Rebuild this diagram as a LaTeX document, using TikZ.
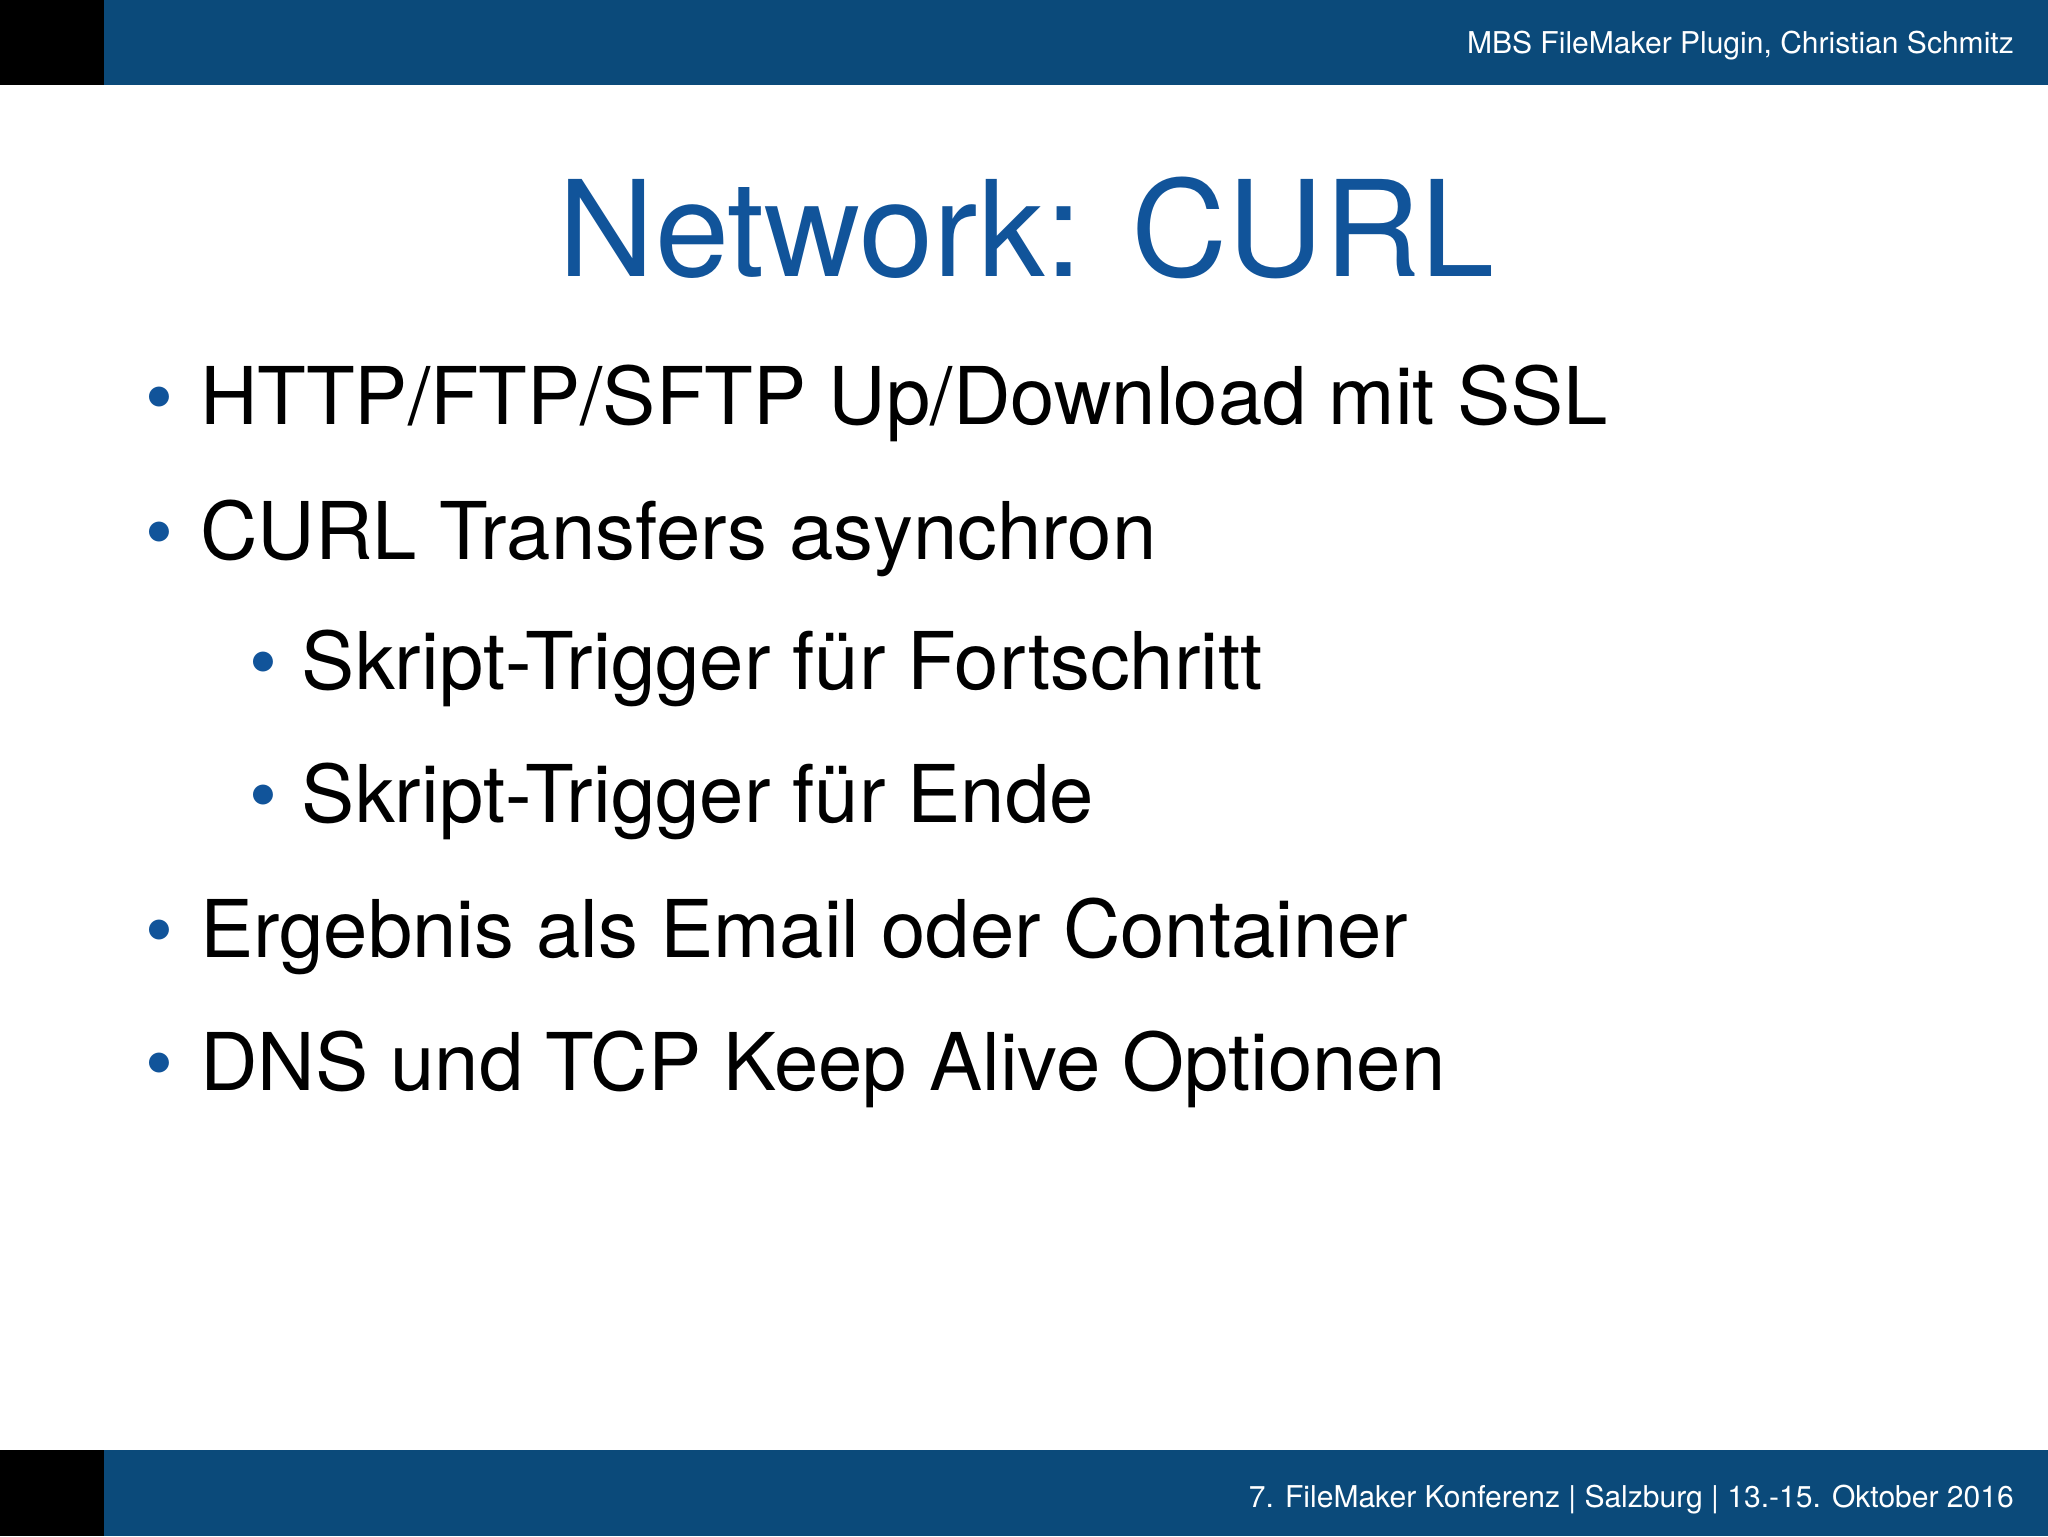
\documentclass[tikz,border=0pt]{standalone}
\usepackage{fontspec}
\setmainfont{TeX Gyre Heros}
\definecolor{barblue}{HTML}{0B4A7A}
\definecolor{titleblue}{HTML}{11549A}
\begin{document}
\begin{tikzpicture}[x=1pt,y=-1pt,
  item/.style={anchor=base west,inner sep=0,font=\fontsize{61}{70}\selectfont},
  dot/.style={anchor=base,inner sep=0,text=titleblue,font=\fontsize{61}{70}\selectfont},
  small/.style={anchor=base east,inner sep=0,text=white,font=\fontsize{23}{26}\selectfont}]
\useasboundingbox (0,0) rectangle (1568,1176);
\fill[white] (0,0) rectangle (1568,1176);
\fill[barblue] (0,0) rectangle (1568,65);
\fill[black] (0,0) rectangle (80,65);
\fill[barblue] (0,1110) rectangle (1568,1176);
\fill[black] (0,1110) rectangle (80,1176);
\node[small] (hdr) at (1542,41) {MBS FileMaker Plugin, Christian Schmitz};
\node[small] (ftr) at (1542,1154) {7. FileMaker Konferenz | Salzburg | 13.-15. Oktober 2016};
\node[anchor=base,inner sep=0,text=titleblue,font=\fontsize{102}{110}\selectfont] (title) at (786,212) {Network: CURL};
\node[dot] (d1) at (122,325) {•}; \node[item] (t1) at (153,325) {HTTP/FTP/SFTP Up/Download mit SSL};
\node[dot] (d2) at (122,428) {•}; \node[item] (t2) at (153,428) {CURL Transfers asynchron};
\node[dot] (d3) at (202,528) {•}; \node[item] (t3) at (231,528) {Skript-Trigger für Fortschritt};
\node[dot] (d4) at (202,630) {•}; \node[item] (t4) at (231,630) {Skript-Trigger für Ende};
\node[dot] (d5) at (122,733) {•}; \node[item] (t5) at (153,733) {Ergebnis als Email oder Container};
\node[dot] (d6) at (122,835) {•}; \node[item] (t6) at (153,835) {DNS und TCP Keep Alive Optionen};
\end{tikzpicture}
\end{document}
